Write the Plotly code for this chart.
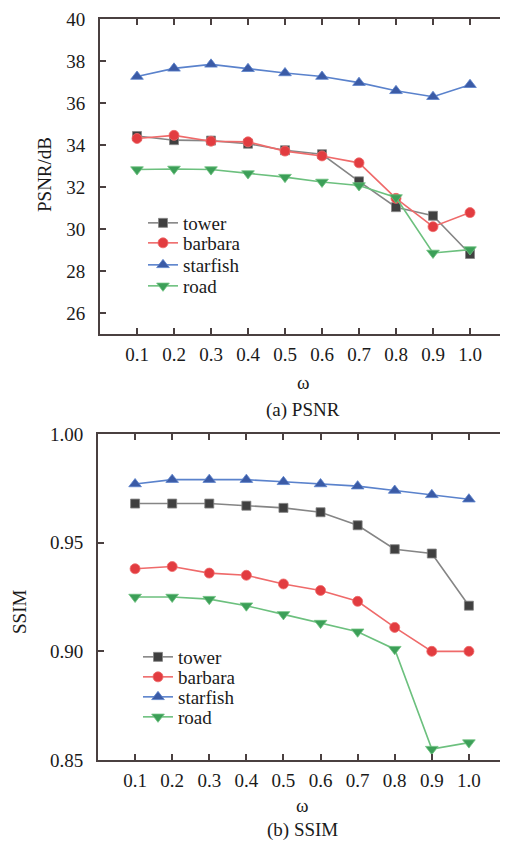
import plotly.graph_objects as go

omega = [0.1, 0.2, 0.3, 0.4, 0.5, 0.6, 0.7, 0.8, 0.9, 1.0]
omega_labels = ["0.1", "0.2", "0.3", "0.4", "0.5", "0.6", "0.7", "0.8", "0.9", "1.0"]

psnr_tower = [34.43, 34.23, 34.21, 34.06, 33.75, 33.56, 32.27, 31.04, 30.63, 28.81]
psnr_barbara = [34.31, 34.46, 34.18, 34.15, 33.71, 33.48, 33.15, 31.46, 30.11, 30.78]
psnr_starfish = [37.26, 37.65, 37.84, 37.63, 37.43, 37.26, 36.97, 36.58, 36.30, 36.87]
psnr_road = [32.83, 32.86, 32.83, 32.64, 32.47, 32.24, 32.07, 31.50, 28.86, 29.02]

ssim_tower = [0.968, 0.968, 0.968, 0.967, 0.966, 0.964, 0.958, 0.947, 0.945, 0.921]
ssim_barbara = [0.938, 0.939, 0.936, 0.935, 0.931, 0.928, 0.923, 0.911, 0.900, 0.900]
ssim_starfish = [0.977, 0.979, 0.979, 0.979, 0.978, 0.977, 0.976, 0.974, 0.972, 0.970]
ssim_road = [0.925, 0.925, 0.924, 0.921, 0.917, 0.913, 0.909, 0.901, 0.855, 0.858]

psnr_ticks = [26, 28, 30, 32, 34, 36, 38, 40]
ssim_ticks = [0.85, 0.90, 0.95, 1.00]
ssim_tick_labels = ["0.85", "0.90", "0.95", "1.00"]

series_names = ["tower", "barbara", "starfish", "road"]
line_colors = ["#858585", "#ef6a6a", "#5a82cc", "#6cc07e"]
marker_colors = ["#404040", "#e23c40", "#3b5ba6", "#3c9f58"]
symbols = ["square", "circle", "triangle-up", "triangle-down"]
sizes = [9, 10, 11, 11]

FONT = "Liberation Serif"
TXT = "#1a1a1a"
AX = "#4a4040"

# page body has an 8px margin: figure is 500x838 placed at (8, 8)
OFF = 8
W, H = 508 - OFF, 846 - OFF


def px(xp):
    return (xp - OFF) / W


def py(yp):
    return 1 - (yp - OFF) / H


fig = go.Figure()

psnr_data = [psnr_tower, psnr_barbara, psnr_starfish, psnr_road]
ssim_data = [ssim_tower, ssim_barbara, ssim_starfish, ssim_road]

top_rows = [223, 243, 265, 286]
bot_rows = [657, 677, 697, 717]

legend_layout = {}
for i, name in enumerate(series_names):
    lg_top = "legend" if i == 0 else f"legend{i + 1}"
    lg_bot = f"legend{i + 5}"
    fig.add_trace(go.Scatter(
        x=omega, y=psnr_data[i], name=name, mode="lines+markers",
        line=dict(color=line_colors[i], width=1.6),
        marker=dict(symbol=symbols[i], size=sizes[i], color=marker_colors[i],
                    line=dict(width=0.8, color=line_colors[i])),
        xaxis="x", yaxis="y", legend=lg_top))
    fig.add_trace(go.Scatter(
        x=omega, y=ssim_data[i], name=name, mode="lines+markers",
        line=dict(color=line_colors[i], width=1.6),
        marker=dict(symbol=symbols[i], size=sizes[i], color=marker_colors[i],
                    line=dict(width=0.8, color=line_colors[i])),
        xaxis="x2", yaxis="y2", legend=lg_bot))
    common = dict(xanchor="left", yanchor="middle",
                  bgcolor="rgba(0,0,0,0)", borderwidth=0,
                  font=dict(family=FONT, size=19, color=TXT),
                  tracegroupgap=0, itemwidth=30)
    legend_layout[lg_top] = dict(common, x=px(143), y=py(top_rows[i]))
    legend_layout[lg_bot] = dict(common, x=px(138), y=py(bot_rows[i]))

xcommon = dict(range=[0, 1.1], tickvals=omega, ticktext=omega_labels,
               showline=True, linecolor=AX, linewidth=2, mirror="ticks",
               ticks="inside", ticklen=6, tickwidth=2, tickcolor=AX,
               showgrid=False, zeroline=False, ticklabelstandoff=2, automargin=False,
               ticklabeloverflow="allow",
               tickfont=dict(family=FONT, size=19, color=TXT))
ycommon = dict(showline=True, linecolor=AX, linewidth=2, mirror="ticks",
               ticks="inside", ticklen=6, tickwidth=2, tickcolor=AX,
               showgrid=False, zeroline=False, ticklabelstandoff=9, automargin=False,
               ticklabeloverflow="allow",
               tickfont=dict(family=FONT, size=19, color=TXT))

fig.update_layout(
    width=W, height=H,
    margin=dict(l=0, r=0, t=0, b=0, autoexpand=False),
    font=dict(family=FONT, size=19, color=TXT),
    paper_bgcolor="white", plot_bgcolor="white",
    showlegend=True,
    xaxis=dict(xcommon, domain=[px(100), px(507)], anchor="y"),
    yaxis=dict(ycommon, domain=[py(334), py(19)], range=[25, 40],
               tickvals=psnr_ticks, anchor="x"),
    xaxis2=dict(xcommon, domain=[px(98), px(506)], anchor="y2"),
    yaxis2=dict(ycommon, domain=[py(760), py(434)], range=[0.85, 1.0],
                tickvals=ssim_ticks, ticktext=ssim_tick_labels, anchor="x2"),
    **legend_layout,
)

annots = [
    dict(text="PSNR/dB", x=px(45), y=py(175), textangle=-90),
    dict(text="ω", x=px(303), y=py(382), textangle=0),
    dict(text="(a) PSNR", x=px(303), y=py(410), textangle=0),
    dict(text="SSIM", x=px(19), y=py(612), textangle=-90),
    dict(text="ω", x=px(302), y=py(805), textangle=0),
    dict(text="(b) SSIM", x=px(302), y=py(830), textangle=0),
]
for a in annots:
    fig.add_annotation(xref="paper", yref="paper", showarrow=False,
                       xanchor="center", yanchor="middle",
                       font=dict(family=FONT, size=19, color=TXT), **a)

fig.write_html("out.html")
